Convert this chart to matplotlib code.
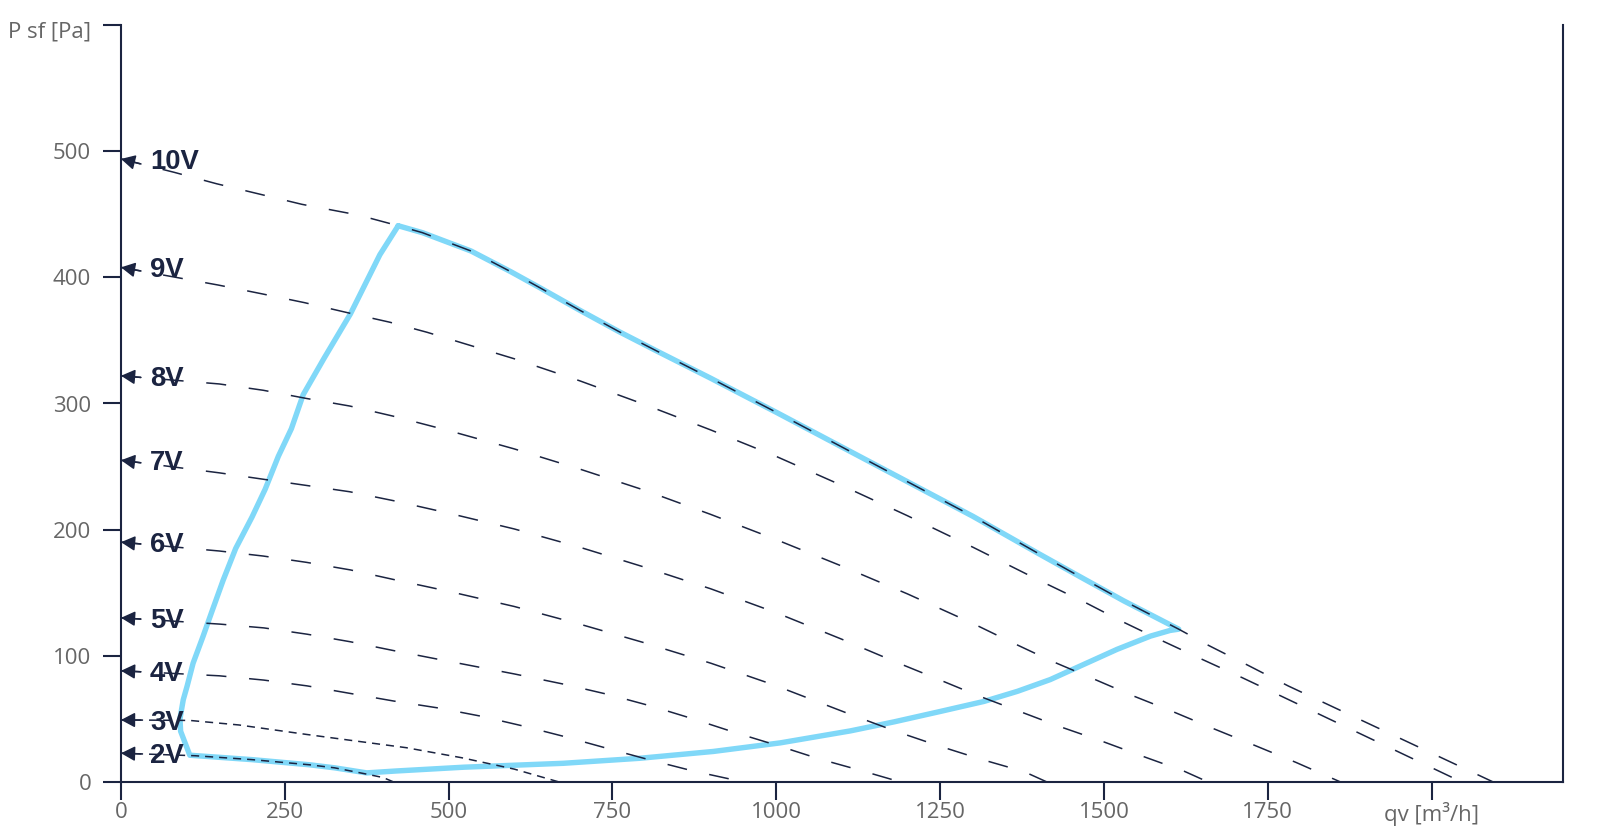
import matplotlib
matplotlib.use("Agg")
import matplotlib.pyplot as plt
from matplotlib.transforms import ScaledTranslation

plt.rcParams['lines.scale_dashes'] = False

# ---------------- data ----------------
x_ticks = [0, 250, 500, 750, 1000, 1250, 1500, 1750, 2000]
x_tick_labels = ['0', '250', '500', '750', '1000', '1250', '1500', '1750', 'qv [m³/h]']
y_ticks = [0, 100, 200, 300, 400, 500, 600]
y_tick_labels = ['0', '100', '200', '300', '400', '500', 'P sf [Pa]']

voltage_labels = ['2V', '3V', '4V', '5V', '6V', '7V', '8V', '9V', '10V']

v2_x = [0, 113, 200, 288, 326, 372, 400, 415]
v2_y = [22.6, 20.6, 17.5, 13.4, 11, 6.3, 3.3, 0]

v3_x = [0, 105, 180, 283, 342, 435, 520, 600, 667]
v3_y = [49, 48.6, 45, 37.5, 33.4, 27, 19, 10, 0]

v4_x = [0, 150, 218, 284, 350, 416, 484, 549, 615, 679, 745, 809, 873, 948]
v4_y = [88, 84, 80.6, 76, 70, 64, 58.5, 52, 44, 35.5, 26, 17, 8.5, 0]

v5_x = [0, 151, 218, 284, 350, 416, 500, 600, 679, 745, 809, 872, 937, 1000, 1066, 1131, 1188]
v5_y = [130, 125, 122, 117, 111, 104, 95.5, 85.5, 77, 69, 60, 50, 39, 29, 18, 8.6, 0]

v6_x = [0, 150, 217, 283, 350, 415, 500, 600, 700, 800, 900, 995, 1060, 1122, 1185, 1248, 1313, 1378, 1412]
v6_y = [190, 183, 179, 174, 168, 160.5, 151, 139, 125, 110, 94, 77, 64, 51.6, 39.5, 28.4, 17.7, 8, 0]

v7_x = [0, 150, 216, 283, 349, 415, 500, 600, 700, 800, 900, 1000, 1100, 1182, 1245, 1307, 1370, 1431,
        1496, 1560, 1622, 1658]
v7_y = [255, 245, 240, 235, 230, 223, 213, 200.5, 186, 170, 153, 134, 113, 95, 81.7, 68.4, 56, 44,
        32.3, 20, 8.4, 0]

v8_x = [0, 150, 217, 283, 349, 415, 500, 600, 700, 800, 900, 1000, 1100, 1200, 1300, 1359, 1420, 1483,
        1543, 1606, 1668, 1731, 1793, 1860]
v8_y = [322, 315.5, 310.5, 304, 298, 290, 278.5, 264, 248, 231, 212, 192, 171, 149, 125.5, 110.6, 95.7,
        81.8, 68.4, 55.4, 41.9, 28.6, 15.3, 0]

v9_x = [0, 148, 215, 280, 346, 410, 467, 600, 700, 800, 900, 1000, 1100, 1200, 1300, 1400, 1472, 1528,
        1590, 1650, 1711, 1772, 2045]
v9_y = [408, 394, 387, 380, 372, 364.5, 356.5, 335.5, 318, 299, 279, 258, 235, 211, 186, 160, 142, 127,
        111.5, 97, 82.5, 67.5, 0]

v10_x = [0, 81, 146, 276, 362, 423, 460, 534, 595, 640, 700, 760, 820, 900, 1000, 1100, 1200, 1300, 1400,
         1469, 1530, 1614, 1660, 1721, 1781, 2093]
v10_y = [494, 483.4, 474.3, 458, 449.5, 441, 435.5, 421, 404.5, 391.6, 374, 357, 341, 320, 293, 265.5,
         238, 210.5, 181, 161, 143.5, 121, 108, 92, 76, 0]

# operating envelope (closed outline)
env_x = [423, 460, 534, 595, 640, 700, 760, 820, 900, 1000, 1100, 1200, 1300, 1400, 1469, 1530, 1614,
         1601, 1571, 1520, 1469, 1418, 1368, 1317, 1250, 1180, 1113, 1006, 904, 792, 675, 523, 420, 375,
         326, 288, 200, 105, 91, 90, 95, 101, 110, 125, 138, 156, 175, 200, 220, 240, 260, 278, 310,
         350, 395, 423]
env_y = [441, 435.5, 421, 404.5, 391.6, 374, 357, 341, 320, 293, 265.5, 238, 210.5, 181, 161, 143.5, 121,
         120, 115.5, 105, 93, 81, 71.7, 63.7, 55.7, 47.5, 40.3, 30.8, 24, 18.6, 14.6, 11.5, 8.5, 7,
         11, 13.4, 17.5, 21, 40, 50, 65, 76, 94, 115, 134, 160, 185, 210, 232, 258, 280, 307, 336,
         371, 418, 441]

curves_x = [v2_x, v3_x, v4_x, v5_x, v6_x, v7_x, v8_x, v9_x, v10_x]
curves_y = [v2_y, v3_y, v4_y, v5_y, v6_y, v7_y, v8_y, v9_y, v10_y]

# ---------------- style ----------------
NAVY = '#1b2441'
BLUE = '#80d8f8'
GRAY = '#666666'
W, H = 1602, 838

fig = plt.figure(figsize=(W / 100, H / 100), dpi=100)
ax = fig.add_axes([121 / W, 56.3 / H, (1562.7 - 121) / W, (781.7 - 25.3) / H])
ax.set_xlim(0, 2200)
ax.set_ylim(0, 600)

for s in ['left', 'bottom', 'right']:
    ax.spines[s].set_color(NAVY)
    ax.spines[s].set_linewidth(1.5)
ax.spines['top'].set_visible(False)

ax.set_xticks(x_ticks)
ax.set_xticklabels(x_tick_labels)
ax.set_yticks(y_ticks)
ax.set_yticklabels(y_tick_labels)
ax.tick_params(axis='both', direction='out', length=13, width=1.5, color=NAVY,
               labelcolor=GRAY, labelsize=16)
ax.tick_params(axis='x', pad=1.5)
ax.tick_params(axis='y', pad=8.5)
for lab in ax.get_xticklabels() + ax.get_yticklabels():
    lab.set_fontfamily(['Open Sans', 'DejaVu Sans'])
# top y label sits slightly below its tick in the reference
top_lab = ax.get_yticklabels()[-1]
top_lab.set_transform(top_lab.get_transform() + ScaledTranslation(0, -4 / 100, fig.dpi_scale_trans))

# envelope
ax.plot(env_x, env_y, color=BLUE, lw=3.9, solid_joinstyle='round', solid_capstyle='round',
        zorder=2, clip_on=False)

# voltage curves
for i, (cx, cy, lab) in enumerate(zip(curves_x, curves_y, voltage_labels)):
    if lab in ('2V', '3V'):
        ls = (0, (5.8, 4.3))
    else:
        ls = (0, (14.4, 16.4))
    ax.plot(cx, cy, color=NAVY, lw=1.1, linestyle=ls, zorder=3, clip_on=False)
    # arrow head at start, direction following the curve
    dx_pix = (cx[1] - cx[0]) * (1441.7 / 2200)
    dy_pix = (cy[1] - cy[0]) * (756.4 / 600)
    slope = dy_pix / dx_pix
    ax.annotate('', xy=(0, cy[0]), xytext=(20, 20 * slope), textcoords='offset pixels',
                arrowprops=dict(arrowstyle='-|>,head_length=0.85,head_width=0.45',
                                color=NAVY, lw=1.1, mutation_scale=10,
                                shrinkA=0, shrinkB=0),
                annotation_clip=False, zorder=4)
    ax.annotate(lab, xy=(0, cy[0]), xytext=(29, -10), textcoords='offset pixels',
                ha='left', va='baseline', fontsize=19.8, fontweight='bold',
                family=['Liberation Sans', 'DejaVu Sans'], color=NAVY,
                annotation_clip=False, zorder=4)

fig.savefig('out.png', dpi=100)
